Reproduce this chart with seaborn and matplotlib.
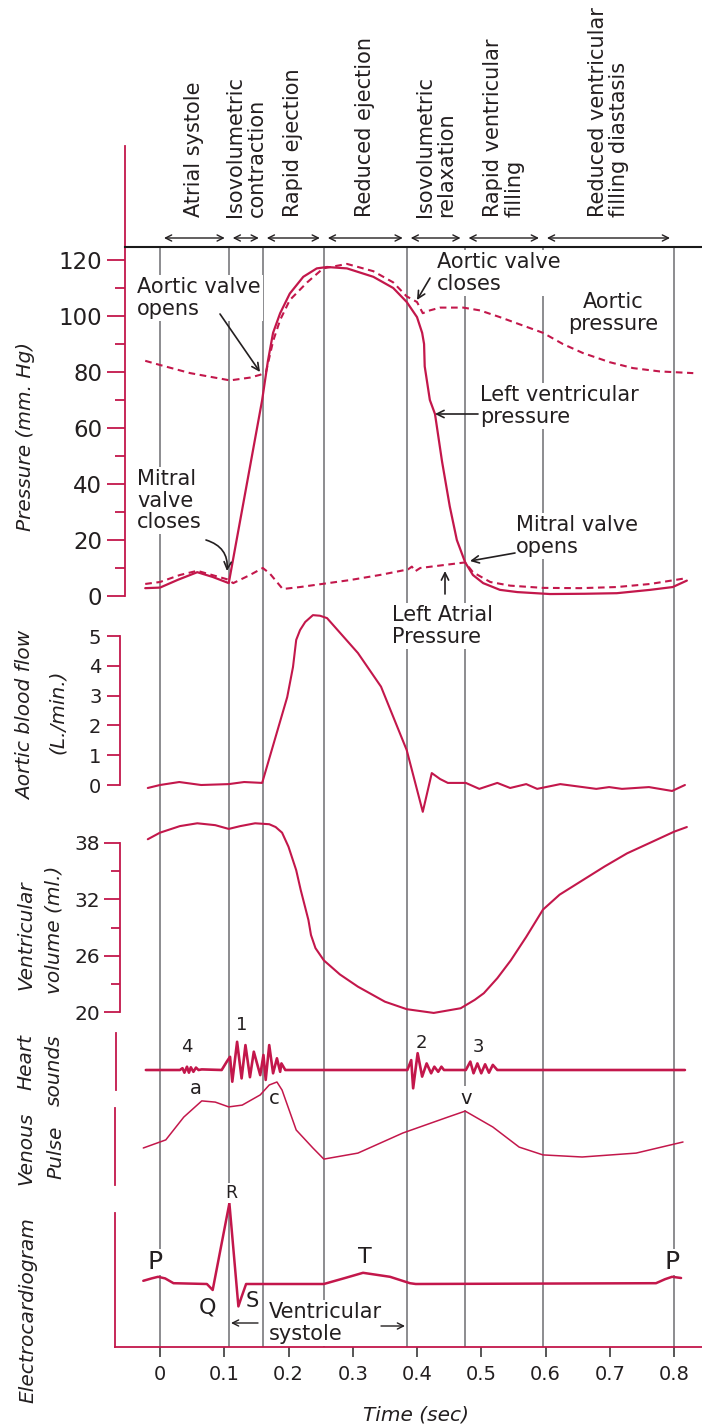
import matplotlib
matplotlib.use("Agg")
import matplotlib.pyplot as plt
import seaborn as sns

sns.set_theme(style="white")
plt.rcParams['font.family'] = ['DejaVu Sans']

RED = '#c3174b'
GRID = '#6d6e71'
INK = '#231f20'

# ---------------- data ----------------
phase_bounds = [0.0, 0.107, 0.160, 0.255, 0.384, 0.474, 0.596, 0.800]
phase_names = ["Atrial systole", "Isovolumetric\ncontraction", "Rapid ejection",
               "Reduced ejection", "Isovolumetric\nrelaxation",
               "Rapid ventricular\nfilling", "Reduced ventricular\nfilling diastasis"]

# Left ventricular pressure (mm Hg)
lv_t = [-0.023, 0.000, 0.028, 0.058, 0.082, 0.107, 0.159, 0.168, 0.176, 0.187, 0.202,
        0.223, 0.244, 0.260, 0.291, 0.332, 0.363, 0.384, 0.400, 0.408, 0.411, 0.412,
        0.420, 0.428, 0.439, 0.451, 0.462, 0.475, 0.487, 0.503, 0.529, 0.556, 0.607,
        0.661, 0.711, 0.763, 0.798, 0.820]
lv_p = [2.8, 3.0, 5.8, 8.5, 6.8, 4.6, 70, 84, 94, 101, 108,
        114, 117, 117.5, 117, 114, 110, 105, 99.6, 94, 90, 82,
        70, 65, 48, 32, 20, 12, 7.5, 4.6, 2.2, 1.4, 0.7,
        0.8, 1.0, 2.2, 3.2, 5.5]

# Aortic pressure (mm Hg)
ao_t = [-0.023, 0.000, 0.047, 0.109, 0.140, 0.156, 0.165, 0.176, 0.187, 0.202, 0.229,
        0.254, 0.291, 0.332, 0.363, 0.384, 0.400, 0.409, 0.420, 0.436, 0.472, 0.498,
        0.529, 0.560, 0.596, 0.627, 0.658, 0.700, 0.736, 0.778, 0.830]
ao_p = [84, 82.5, 79.6, 77, 78, 79, 80, 91, 98.6, 105.7, 112,
        117, 118.6, 116, 112, 107, 105, 101, 102, 103, 103, 102,
        99.6, 97, 94, 90, 86.8, 83.5, 81.4, 80.2, 79.6]

# Left atrial pressure (mm Hg)
la_t = [-0.023, 0.000, 0.031, 0.058, 0.104, 0.114, 0.140, 0.160, 0.171, 0.191, 0.218,
        0.296, 0.342, 0.386, 0.392, 0.397, 0.405, 0.475, 0.487, 0.514, 0.545, 0.596,
        0.654, 0.711, 0.763, 0.820]
la_p = [4.3, 5, 7.5, 9, 6, 4.6, 7.5, 10, 8, 2.5, 3.2,
        5.7, 7.5, 9.5, 10.5, 8.8, 10, 12, 8.5, 5, 3.7, 2.9,
        2.8, 3.2, 4.3, 6.4]

# Aortic blood flow (L/min)
flow_t = [-0.019, 0.000, 0.030, 0.064, 0.107, 0.131, 0.159, 0.198, 0.207, 0.212, 0.218,
          0.226, 0.238, 0.249, 0.260, 0.308, 0.344, 0.384, 0.409, 0.423, 0.436, 0.448,
          0.476, 0.497, 0.525, 0.545, 0.570, 0.587, 0.623, 0.679, 0.699, 0.719, 0.761,
          0.797, 0.817]
flow_v = [-0.1, 0.0, 0.1, 0.0, 0.03, 0.1, 0.07, 2.95, 3.96, 4.87, 5.2,
          5.47, 5.7, 5.68, 5.6, 4.43, 3.3, 1.17, -0.9, 0.4, 0.2, 0.07,
          0.07, -0.13, 0.07, -0.1, 0.03, -0.13, 0.03, -0.13, -0.07, -0.13, -0.07,
          -0.2, 0.0]

# Ventricular volume (ml)
vol_t = [-0.019, 0.000, 0.031, 0.058, 0.086, 0.107, 0.125, 0.148, 0.170, 0.180, 0.190,
         0.200, 0.212, 0.219, 0.231, 0.235, 0.242, 0.255, 0.280, 0.308, 0.350,
         0.384, 0.426, 0.468, 0.490, 0.504, 0.525, 0.546, 0.570, 0.596, 0.622, 0.657,
         0.692, 0.727, 0.762, 0.800, 0.820]
vol_v = [38.4, 39.1, 39.8, 40.1, 39.9, 39.5, 39.8, 40.1, 40.0, 39.7, 39.1,
         37.6, 35.1, 33.0, 29.8, 28.2, 26.8, 25.5, 24.0, 22.7, 21.1,
         20.3, 19.9, 20.4, 21.3, 22.0, 23.6, 25.5, 28.0, 30.9, 32.5, 34.0,
         35.5, 36.9, 38.0, 39.2, 39.7]

# Heart sounds (arbitrary amplitude)
hs_t = [-0.022, 0.023, 0.031, 0.035, 0.038, 0.042, 0.045, 0.048, 0.052, 0.056, 0.060, 0.065,
        0.096, 0.104, 0.109, 0.1125, 0.120, 0.127, 0.133, 0.140, 0.146, 0.156, 0.161,
        0.1645, 0.170, 0.176, 0.182, 0.187, 0.189, 0.195,
        0.385, 0.391, 0.394, 0.401, 0.408, 0.415, 0.422, 0.427, 0.433, 0.438, 0.442,
        0.476, 0.483, 0.488, 0.494, 0.500, 0.506, 0.512, 0.518, 0.525, 0.817]
hs_v = [0, 0, 0, 0.6, -0.9, 1.1, -0.9, 0.9, -0.6, 0.8, 0, 0.2,
        0, 2.8, 4.4, -3.9, 9.4, -2.8, 8.3, -2.4, 6.1, -1.7, 5.0,
        -3.3, 8.3, -1.1, 3.9, -0.6, 2.2, 0,
        0, 3.3, -6.1, 5.6, -2.2, 2.2, -1.1, 1.1, -0.6, 1.1, 0,
        0, 2.8, -1.1, 2.2, -1.1, 1.9, -0.9, 1.7, 0, 0]

# Venous pulse (arbitrary units)
vp_t = [-0.026, 0.009, 0.037, 0.065, 0.086, 0.107, 0.128, 0.156, 0.170, 0.182, 0.190,
        0.212, 0.238, 0.255, 0.308, 0.378, 0.448, 0.475, 0.518, 0.559, 0.596, 0.657,
        0.741, 0.814]
vp_v = [4, 6.7, 14.3, 19.7, 19.3, 17.7, 18.3, 21.7, 25, 26, 23.3,
        10, 4, 0.3, 2.3, 9, 14.3, 16.3, 11, 4.3, 1.7, 1,
        2.3, 6]

# Electrocardiogram (mV)
ecg_t = [-0.026, -0.013, -0.003, 0.008, 0.021, 0.073, 0.082, 0.108, 0.122, 0.127, 0.134,
         0.255, 0.288, 0.316, 0.358, 0.389, 0.398, 0.772, 0.786, 0.797, 0.811]
ecg_v = [0.04, 0.07, 0.09, 0.07, 0.01, 0.0, -0.075, 1.01, -0.28, -0.16, 0.0,
         0.0, 0.075, 0.14, 0.09, 0.01, 0.0, 0.01, 0.06, 0.09, 0.075]

time_ticks = [0, 0.1, 0.2, 0.3, 0.4, 0.5, 0.6, 0.7, 0.8]
time_labels = ['0', '0.1', '0.2', '0.3', '0.4', '0.5', '0.6', '0.7', '0.8']

# ---------------- layout ----------------
W, H = 702, 1428
X0, PXS = 160.0, 642.5          # pixel of t=0, pixels per second
XLIM = (-X0 / PXS, (W - X0) / PXS)


def px_t(x):
    return (x - X0) / PXS


fig = plt.figure(figsize=(W / 100, H / 100), dpi=100)
fig.patch.set_facecolor('white')

# background: phase boundaries, phase labels
axbg = fig.add_axes([0, 0, 1, 1], zorder=0)
axbg.set_xlim(XLIM)
axbg.set_ylim(H, 0)
axbg.axis('off')
axbg.vlines(phase_bounds, 247, 1347, color=GRID, lw=1.1)
d = 4 / PXS
for i, name in enumerate(phase_names):
    a, b = phase_bounds[i], phase_bounds[i + 1]
    axbg.text((a + b) / 2, 217, name, rotation=90, ha='center', va='bottom',
              multialignment='left', fontsize=15, color=INK, linespacing=1.08)
    axbg.annotate('', xy=(b - d, 238), xytext=(a + d, 238),
                  arrowprops=dict(arrowstyle='<->', color=INK, lw=1.0,
                                  shrinkA=0, shrinkB=0, mutation_scale=11))

panels = []


def panel(top, bottom, v_a, y_a, v_b, y_b):
    ax = fig.add_axes([0, 1 - bottom / H, 1, (bottom - top) / H], zorder=2)
    k = (y_b - y_a) / (v_b - v_a)
    vtop = v_a + (top - y_a) / k
    vbot = v_a + (bottom - y_a) / k
    ax.patch.set_alpha(0)
    for s in ax.spines.values():
        s.set_visible(False)
    panels.append((ax, (vbot, vtop)))
    return ax


def red_axis(ax, x_px, lo, hi, major=(), minor=(), major_len=0, minor_len=0,
             labelsize=14, pad=4):
    sp = ax.spines['left']
    sp.set_visible(True)
    sp.set_position(('data', px_t(x_px)))
    sp.set_bounds(lo, hi)
    sp.set_color(RED)
    sp.set_linewidth(1.3)
    ax.set_yticks(list(major))
    ax.set_yticks(list(minor), minor=True)
    ax.tick_params(axis='y', which='major', left=True, direction='out',
                   length=major_len, width=1.3, color=RED, labelsize=labelsize,
                   labelcolor=INK, pad=pad)
    ax.tick_params(axis='y', which='minor', left=True, direction='out',
                   length=minor_len, width=1.3, color=RED)


def curve(ax, t, v, lw, dashed=False):
    kw = dict(color=RED, lw=lw, estimator=None, sort=False, ax=ax)
    if dashed:
        kw['linestyle'] = (0, (3.2, 2.2))
    sns.lineplot(x=t, y=v, **kw)


# Pressure
axP = panel(247, 620, 0, 596, 120, 260)
curve(axP, ao_t, ao_p, 1.5, dashed=True)
curve(axP, la_t, la_p, 1.5, dashed=True)
curve(axP, lv_t, lv_p, 1.6)
red_axis(axP, 125, 0, 160.7, major=range(0, 121, 20), minor=range(10, 120, 20),
         major_len=13, minor_len=7.2, labelsize=16.5, pad=3.5)
top = axP.spines['top']
top.set_visible(True)
top.set_color('#1a1a1a')
top.set_linewidth(1.5)
top.set_bounds(px_t(125), XLIM[1])

# Aortic flow
axF = panel(600, 830, 0, 785, 5, 636)
curve(axF, flow_t, flow_v, 1.5)
red_axis(axF, 120, 0, 5, major=range(0, 6), major_len=9.4, labelsize=14, pad=4)

# Volume
axV = panel(815, 1025, 38, 843, 20, 1012)
curve(axV, vol_t, vol_v, 1.5)
red_axis(axV, 120, 20, 38, major=[20, 26, 32, 38], minor=[23, 29, 35],
         major_len=11.5, minor_len=6.5, labelsize=14.5, pad=3)

# Heart sounds
axH = panel(1028, 1097, 0, 1070, 10, 1040)
curve(axH, hs_t, hs_v, 1.9)
red_axis(axH, 116, -6.67, 12.33)

# Venous pulse
axVP = panel(1070, 1192, 0, 1160, 10, 1130)
curve(axVP, vp_t, vp_v, 1.1)
red_axis(axVP, 115, -8.33, 17.33)

# ECG
axE = panel(1185, 1347, 0, 1284, 1, 1204)
curve(axE, ecg_t, ecg_v, 1.8)
red_axis(axE, 115, -0.7875, 0.8875)
bot = axE.spines['bottom']
bot.set_visible(True)
bot.set_color(RED)
bot.set_linewidth(1.3)
bot.set_bounds(px_t(115), XLIM[1])

for ax, ylim in panels:
    ax.set_xlim(XLIM)
    ax.set_ylim(ylim)
    ax.set_xlabel('')
    ax.set_ylabel('')
    if ax is not axE:
        ax.set_xticks([])

axE.set_xticks(time_ticks)
axE.set_xticklabels(time_labels)
axE.tick_params(axis='x', bottom=True, direction='out', length=7.2, width=1.2,
                color='#3a3a3a', labelsize=14, labelcolor=INK, pad=6)

# ---------------- overlay texts (pixel layout) ----------------
axo = fig.add_axes([0, 0, 1, 1], zorder=10)
axo.set_xlim(0, W)
axo.set_ylim(H, 0)
axo.axis('off')

BOX = dict(facecolor='white', edgecolor='none', pad=1.5)
AFS = 15


def note(x, y, s, ha='left', va='top', fs=AFS, ma=None, box=True, ls=1.1, **kw):
    axo.text(x, y, s, ha=ha, va=va, fontsize=fs, color=INK, linespacing=ls,
             multialignment=ma or ha, bbox=BOX if box else None, **kw)


def arrow(x0, y0, x1, y1, rad=0.0, style='->', ms=13, lw=1.2):
    axo.annotate('', xy=(x1, y1), xytext=(x0, y0),
                 arrowprops=dict(arrowstyle=style, color=INK, lw=lw, shrinkA=0,
                                 shrinkB=0, mutation_scale=ms,
                                 connectionstyle=f'arc3,rad={rad}'))


note(137, 277, "Aortic valve\nopens")
arrow(220, 314, 260, 372)
note(137, 469, "Mitral\nvalve\ncloses")
arrow(206, 540, 227, 571, rad=-0.4)
note(437, 252, "Aortic valve\ncloses")
arrow(430, 278, 417, 300)
note(613, 292, "Aortic\npressure", ha='center', box=False)
note(480, 385, "Left ventricular\npressure")
arrow(478, 414, 435, 414)
note(516, 515, "Mitral valve\nopens")
arrow(515, 553, 470, 561)
note(392, 605, "Left Atrial\nPressure")
arrow(445, 594, 445, 571)

# heart sounds / venous labels
for x, y, s in [(187, 1047, '4'), (242, 1025, '1'), (421, 1043, '2'), (478, 1047, '3')]:
    note(x, y, s, ha='center', va='center', fs=13, box=False)
note(196, 1089, 'a', ha='center', va='center', fs=14, box=False)
note(274, 1099, 'c', ha='center', va='center', fs=14, box=False)
note(466, 1098, 'v', ha='center', va='center', fs=14)

# ECG labels
SBOX = dict(facecolor='white', edgecolor='none', pad=0.5)
for x in (155, 672):
    axo.text(x, 1262, 'P', ha='center', va='center', fontsize=18, color=INK, bbox=SBOX)
axo.text(231, 1193, 'R', ha='center', va='center', fontsize=12.5, color=INK, bbox=SBOX)
note(208, 1307, 'Q', ha='center', va='center', fs=16, box=False)
note(252, 1301, 'S', ha='center', va='center', fs=15, box=False)
note(365, 1257, 'T', ha='center', va='center', fs=16, box=False)
note(269, 1302, "Ventricular\nsystole", fs=15)
arrow(258, 1323, 231, 1323, style='->', ms=11, lw=1.0)
arrow(381, 1326, 405, 1326, style='->', ms=11, lw=1.0)

# axis titles
LFS = 14.5
for x, y, s in [(26, 436, "Pressure (mm. Hg)"),
                (26, 715, "Aortic blood flow"), (57, 712, "(L./min.)"),
                (26, 935, "Ventricular"), (54, 930, "volume (ml.)"),
                (26, 1062, "Heart"), (54, 1070, "sounds"),
                (26, 1148, "Venous"), (56, 1152, "Pulse"),
                (28, 1310, "Electrocardiogram")]:
    axo.text(x, y, s, rotation=90, ha='center', va='center', fontsize=LFS,
             style='italic', color=INK)
axo.text(416, 1415, "Time (sec)", ha='center', va='center', fontsize=LFS,
         style='italic', color=INK)

fig.savefig('out.png', dpi=100, facecolor='white')
